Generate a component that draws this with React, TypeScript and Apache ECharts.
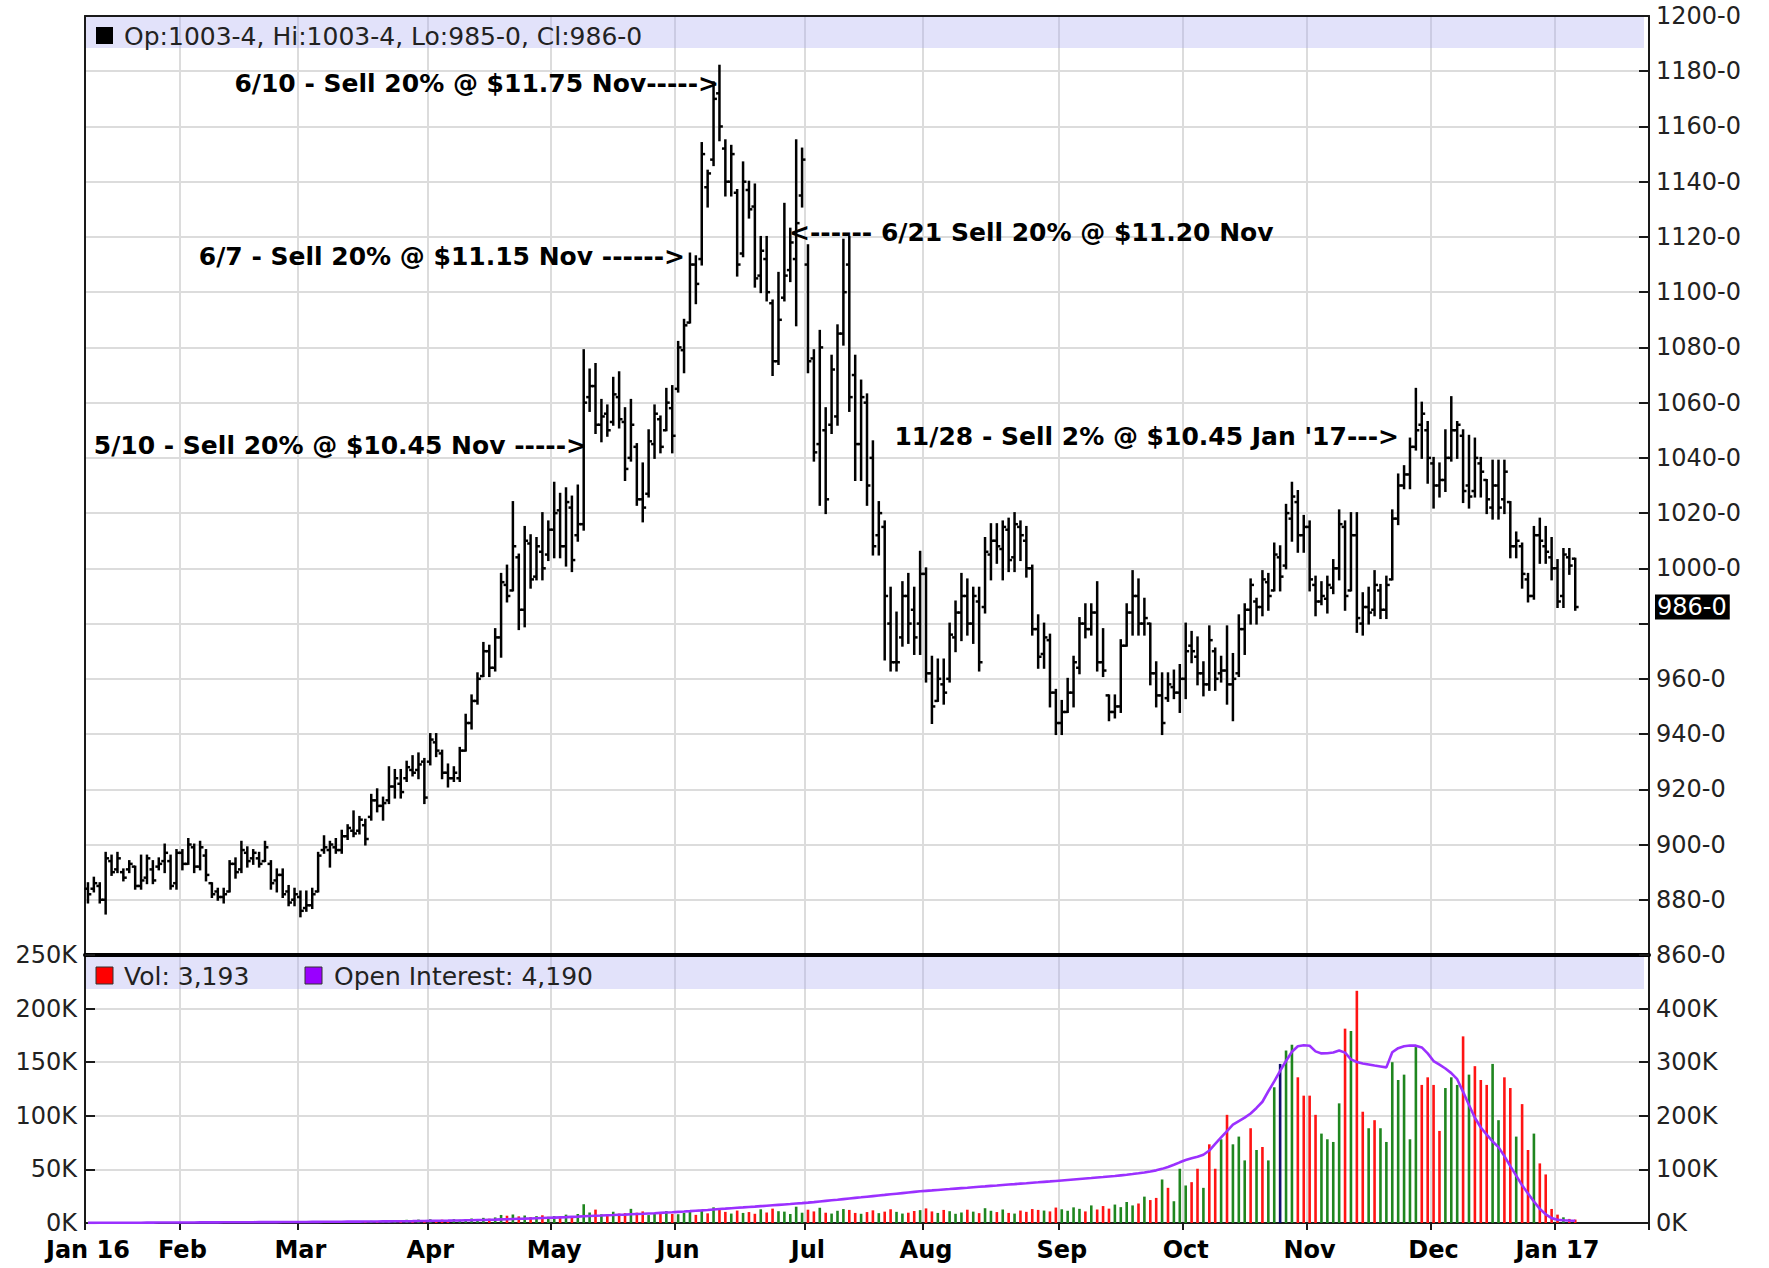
import React, { useEffect, useRef } from 'react';
import * as echarts from 'echarts';

// ---------- DATA ----------
const monthLabels = ['Jan 16', 'Feb', 'Mar', 'Apr', 'May', 'Jun', 'Jul', 'Aug', 'Sep', 'Oct', 'Nov', 'Dec', 'Jan 17'];

// daily bars: [open, high, low, close]
const jan16 = [[884,886,879,882],[884,888,883,886],[885,886,879,880],[880,897,875,895],[894,896,889,890],[891,897,890,895],[890,891,887,888],[891,894,890,893],[892,892,884,885],[885,896,884,887],[888,896,886,895],[891,894,886,887],[892,895,891,893],[894,900,890,897],[894,896,884,885],[886,898,884,897]];
const feb16 = [[897,898,891,893],[893,902,893,900],[899,900,890,892],[892,901,891,899],[896,898,887,889],[886,886,881,882],[883,884,880,881],[881,884,879,882],[883,894,883,893],[893,895,888,890],[891,901,890,898],[897,899,892,894],[895,898,893,897],[895,897,892,893],[894,901,894,899],[893,894,884,886],[887,891,883,889],[889,891,881,882],[883,885,878,879],[880,884,878,882]];
const mar16 = [[881,883,874,876],[877,883,876,878],[878,884,877,882],[883,897,883,896],[898,903,897,899],[898,901,892,900],[899,902,897,898],[898,905,897,903],[903,907,902,906],[905,912,903,904],[905,910,904,909],[907,909,900,902],[910,918,909,916],[916,920,912,914],[914,917,909,915],[916,928,915,921],[921,927,917,924],[922,927,917,919],[924,930,923,928],[927,932,925,926],[927,933,924,929],[930,931,915,917]];
const apr16 = [[930,940,929,938],[937,940,932,934],[933,934,924,926],[926,929,921,924],[924,928,923,926],[924,935,923,934],[934,947,934,944],[944,954,942,952],[952,962,951,960],[961,973,961,970],[970,972,961,964],[964,978,963,975],[975,998,968,995],[994,1001,988,990],[992,1024,992,1008],[1004,1005,978,985],[985,1015,979,1010],[1009,1012,993,996],[997,1011,996,1008],[1006,1020,996,1000],[1005,1017,1003,1014]];
const may16 = [[1014,1031,1004,1020],[1021,1027,1004,1008],[1008,1029,1001,1024],[1022,1026,999,1003],[1012,1030,1010,1016],[1016,1079,1014,1060],[1062,1072,1057,1066],[1066,1074,1049,1052],[1052,1061,1046,1055],[1056,1059,1048,1050],[1053,1069,1052,1063],[1062,1071,1051,1054],[1053,1058,1032,1036],[1040,1061,1039,1052],[1044,1045,1023,1025],[1025,1038,1017,1022],[1027,1050,1026,1046],[1045,1059,1040,1056],[1054,1055,1042,1044],[1050,1065,1050,1060],[1058,1066,1042,1048]];
const jun16 = [[1065,1082,1064,1080],[1079,1090,1071,1088],[1089,1114,1089,1110],[1110,1113,1096,1103],[1112,1154,1110,1150],[1138,1144,1131,1143],[1148,1176,1146,1170],[1172,1182,1155,1160],[1152,1155,1135,1140],[1140,1153,1135,1150],[1136,1137,1106,1110],[1114,1147,1113,1140],[1137,1140,1127,1130],[1131,1139,1102,1105],[1106,1120,1100,1115],[1112,1120,1097,1100],[1096,1097,1070,1075],[1075,1107,1074,1090],[1098,1132,1097,1106],[1108,1123,1104,1118],[1112,1155,1088,1125],[1135,1152,1131,1148]];
const jul16 = [[1110,1117,1071,1075],[1076,1079,1039,1042],[1045,1086,1023,1080],[1050,1058,1020,1025],[1052,1077,1049,1072],[1055,1088,1052,1085],[1085,1119,1081,1100],[1110,1120,1057,1062],[1070,1077,1032,1045],[1045,1068,1032,1062],[1060,1063,1023,1030],[1040,1046,1005,1008],[1012,1024,1005,1020],[1015,1017,967,990],[980,993,963,966],[966,984,963,966],[975,995,972,990],[990,998,973,980],[985,993,969,975],[980,1006,969,998]];
const aug16 = [[998,1000,959,962],[962,968,944,950],[952,967,952,960],[958,967,951,955],[960,980,959,976],[975,988,970,984],[984,998,974,990],[990,996,976,980],[980,993,973,990],[988,993,963,966],[986,1011,984,1006],[1005,1016,996,1010],[1010,1016,1002,1008],[1007,1017,996,1015],[1014,1018,999,1003],[1004,1020,999,1016],[1015,1017,1003,1012],[1010,1015,997,1000],[1000,1001,976,978],[978,983,964,968],[969,980,964,975],[974,976,950,955],[955,956,940,944]];
const sep16 = [[944,952,940,948],[948,960,948,955],[955,968,950,966],[964,982,962,980],[980,987,975,978],[978,987,976,984],[984,995,963,966],[966,978,961,963],[954,954,945,948],[948,954,946,950],[950,974,948,972],[972,987,972,984],[984,999,976,990],[990,996,976,980],[980,989,976,982],[980,980,958,962],[962,966,950,954],[954,962,940,944],[953,962,952,958],[957,963,953,955],[955,965,948,960]];
const oct16 = [[960,980,953,970],[972,977,966,970],[968,975,958,962],[962,966,954,958],[958,979,956,974],[970,971,956,960],[962,968,959,963],[963,979,951,958],[958,969,945,960],[962,983,961,978],[978,987,969,985],[985,996,980,994],[988,989,980,986],[986,999,983,996],[995,998,985,990],[992,1009,992,1005],[1004,1008,992,997],[1001,1023,1000,1020],[1018,1031,1010,1026],[1024,1028,1006,1012],[1012,1019,1006,1015]];
const nov16 = [[1015,1017,992,996],[994,997,983,988],[988,995,987,990],[989,997,984,994],[993,1003,991,1000],[1000,1021,996,1016],[1015,1017,985,990],[992,1020,992,1012],[1012,1020,977,982],[980,991,976,986],[986,993,980,984],[985,999,983,994],[992,994,982,985],[985,997,982,994],[996,1021,996,1018],[1018,1034,1016,1030],[1030,1037,1029,1034],[1034,1047,1029,1044],[1044,1065,1043,1050],[1052,1060,1040,1056],[1050,1053,1031,1040]];
const dec16 = [[1038,1040,1022,1030],[1030,1038,1026,1032],[1032,1050,1028,1040],[1040,1062,1039,1050],[1050,1053,1040,1052],[1048,1050,1024,1028],[1030,1048,1022,1026],[1028,1047,1026,1040],[1038,1040,1026,1035],[1032,1032,1020,1025],[1022,1039,1018,1030],[1030,1039,1018,1022],[1025,1039,1020,1035],[1024,1024,1004,1008],[1008,1013,1004,1010],[1008,1009,993,998],[996,998,988,990],[990,1015,989,1012],[1012,1018,1002,1010],[1008,1015,1002,1006],[1004,1011,996,1000]];
const jan17 = [[1000,1003,986,988],[990,1007,986,1005],[1004,1007,998,1001],[1003.5,1003.5,985,986]];

// daily volume, thousands (left axis)
const janVol = [0.4,0.5,0.3,0.6,0.5,0.4,0.6,0.5,0.7,0.5,0.6,0.4,0.8,0.6,0.7,0.5];
const febVol = [0.6,0.8,0.7,0.9,0.6,0.8,1.0,0.7,0.9,0.8,1.1,0.9,0.7,1.0,1.2,0.9,0.8,1.1,1.0,1.2];
const marVol = [1.0,1.3,1.1,1.5,1.2,1.4,1.6,1.3,1.5,1.8,1.4,1.7,2.0,1.6,1.9,2.2,1.8,2.4,3.0,2.6,3.2,2.8];
const aprVol = [3.5,2.8,3.1,2.5,3.6,3.0,3.4,4.2,3.6,4.8,4.0,5.2,7.5,6.8,8.0,6.2,7.0,5.5,6.4,7.2,5.8];
const mayVol = [6.5,5.9,7.8,6.2,8.4,17.5,9.8,12.5,8.2,7.6,10.5,8.8,9.2,13.2,9.6,10.8,7.4,8.6,9.0,11.2,8.4];
const junVol = [8.2,9.5,11.8,7.6,12.4,9.0,14.6,13.2,10.4,8.8,11.6,9.4,10.2,8.6,12.8,9.8,13.4,11.0,10.6,8.4,15.2,9.6];
const julVol = [12.4,10.8,14.2,9.6,8.8,11.4,13.0,12.2,9.4,8.6,10.2,11.8,9.2,10.6,12.8,10.4,8.8,9.6,11.2,12.0];
const augVol = [13.6,10.8,9.4,12.2,11.0,8.6,9.8,12.4,10.6,9.2,13.8,11.4,10.2,12.6,9.4,8.8,11.6,10.4,13.0,12.2,11.6,10.8,14.4];
const sepVol = [12.8,11.4,14.6,13.2,10.8,16.4,12.6,15.8,13.4,17.2,14.8,19.6,16.4,18.2,24.6,21.4,23.4,40.6,32.8,20.3,50.6];
const octVol = [35.0,38.1,50.6,32.8,73.4,50.6,78.1,100.9,73.4,80.6,58.4,88.4,68.1,70.9,58.4,126.6,148.4,160.9,166.3,135.9,118.8];
const novVol = [118.8,100.9,83.4,78.1,75.6,111.6,181.3,179.1,216.6,103.8,88.4,95.9,88.4,75.6,150.0,133.4,138.4,78.1,164.1,128.8,135.9];
const decVol = [128.8,85.9,125.9,135.9,128.8,174.1,138.4,146.3,133.4,128.8,148.4,95.9,135.9,125.9,80.6,110.9,68.1,83.4,55.6,45.3,13.1];
const jan17Vol = [7.8,5.3,3.8,3.193];

// volume bar colours read from Sep 19 onwards (r = red, g = green, n = navy)
const lateVolColorCodes = 'rgrgggrrgr' + 'rgrgggrgrg' + 'gnggrrrrgg' + 'ggrgrrgrgg' + 'gggggrrrrg' + 'ggrgrrrggr' + 'rgrrgrrrrg' + 'rr';

// open interest, thousands (right axis)
const janOI = [0.3,0.3,0.4,0.4,0.5,0.5,0.5,0.6,0.6,0.6,0.7,0.7,0.8,0.8,0.8,0.9];
const febOI = [0.9,1.0,1.0,1.1,1.1,1.2,1.2,1.3,1.3,1.4,1.4,1.5,1.5,1.6,1.6,1.7,1.7,1.8,1.8,1.9];
const marOI = [1.9,2.0,2.1,2.1,2.2,2.3,2.3,2.4,2.5,2.6,2.6,2.7,2.8,2.9,3.0,3.1,3.2,3.3,3.4,3.5,3.7,3.8];
const aprOI = [4.0,4.1,4.3,4.4,4.6,4.8,5.0,5.2,5.5,5.7,6.0,6.3,6.7,7.0,7.4,7.8,8.1,8.5,8.9,9.3,9.7];
const mayOI = [10.1,10.5,10.9,11.4,11.9,12.6,13.1,13.5,13.9,14.4,14.8,15.3,15.7,16.2,16.7,17.2,17.8,18.3,18.9,19.5,20.1];
const junOI = [20.8,21.4,22.1,22.9,23.6,24.4,25.3,26.1,26.8,27.6,28.4,29.1,29.9,30.6,31.4,32.2,33.0,33.8,34.6,35.4,36.3,37.1];
const julOI = [38.0,39.0,40.1,41.2,42.3,43.4,44.6,45.7,46.8,47.9,49.1,50.2,51.3,52.4,53.6,54.7,55.8,56.9,58.0,59.1];
const augOI = [60.0,60.8,61.7,62.5,63.3,64.2,65.0,65.8,66.7,67.5,68.3,69.2,70.0,70.9,71.7,72.5,73.4,74.2,75.1,75.9,76.8,77.6,78.5];
const sepOI = [79.4,80.3,81.2,82.1,83.0,83.9,84.9,85.8,86.8,87.8,88.9,90.0,91.3,92.7,94.3,96.1,98.2,101.0,104.5,108.6,113.2];
const octOI = [117.5,120.8,123.6,127.4,135.2,147.6,159.8,171.5,183.4,190.2,196.5,204.3,214.6,226.2,245.8,264.1,284.0,302.3,319.6,329.8,331.5];
const novOI = [330.6,320.2,316.4,316.8,318.1,321.7,317.9,305.2,300.4,297.6,295.8,293.9,292.1,290.3,318.5,326.2,329.8,331.2,330.9,327.6,316.4];
const decOI = [302.1,295.4,288.2,279.6,268.3,244.7,220.1,196.4,178.2,164.8,152.1,141.6,124.8,106.2,88.4,70.3,55.2,40.1,26.4,16.2,9.1];
const jan17OI = [6.2,5.1,4.6,4.19];

const priceTicks = { min: 860, max: 1200, step: 20 };
const volTicks = { min: 0, max: 250, step: 50 };
const oiTicks = { min: 0, max: 500, step: 100 };

const annotations = [
  { text: '6/10 - Sell 20% @ $11.75 Nov----->', x: 719, y: 83, align: 'right' },
  { text: '6/7 - Sell 20% @ $11.15 Nov ------>', x: 685, y: 256, align: 'right' },
  { text: '<------ 6/21 Sell 20% @ $11.20 Nov', x: 789, y: 232, align: 'left' },
  { text: '5/10 - Sell 20% @ $10.45 Nov ----->', x: 587, y: 445, align: 'right' },
  { text: "11/28 - Sell 2% @ $10.45 Jan '17--->", x: 1399, y: 436, align: 'right' },
];

// ---------- BUILD ----------
const priceMonths = [jan16, feb16, mar16, apr16, may16, jun16, jul16, aug16, sep16, oct16, nov16, dec16, jan17];
const volMonths = [janVol, febVol, marVol, aprVol, mayVol, junVol, julVol, augVol, sepVol, octVol, novVol, decVol, jan17Vol];
const oiMonths = [janOI, febOI, marOI, aprOI, mayOI, junOI, julOI, augOI, sepOI, octOI, novOI, decOI, jan17OI];

const bars = priceMonths.flat();
const vols = volMonths.flat();
const ois = oiMonths.flat();
const PAD = 12;
const nCats = bars.length + PAD;

const labelAt = new Map<number, string>();
{
  let acc = 0;
  priceMonths.forEach((m, k) => { labelAt.set(acc, monthLabels[k]); acc += m.length; });
}
const categories = Array.from({ length: nCats }, (_, i) => labelAt.get(i) ?? `d${i}`);

const lateStart = bars.length - lateVolColorCodes.length;
const colorOf: Record<string, string> = { r: '#ff1414', g: '#1f861f', n: '#10106e' };
const volColor = (i: number) => {
  if (i >= lateStart) return colorOf[lateVolColorCodes[i - lateStart]];
  if (i === 0) return colorOf.g;
  return bars[i][3] >= bars[i - 1][3] ? colorOf.g : colorOf.r;
};

const fmtGrain = (p: number) => `${Math.floor(p)}-${Math.round((p - Math.floor(p)) * 8)}`;
const last = bars[bars.length - 1];
const lastClose = last[3];
const headerText = `Op:${fmtGrain(last[0])}, Hi:${fmtGrain(last[1])}, Lo:${fmtGrain(last[2])}, Cl:${fmtGrain(last[3])}`;
const volText = `Vol: ${Math.round(vols[vols.length - 1] * 1000).toLocaleString('en-US')}`;
const oiText = `Open Interest: ${Math.round(ois[ois.length - 1] * 1000).toLocaleString('en-US')}`;

const FONT = 'DejaVu Sans';
const GRID_COLOR = '#dcdcdc';
const AXIS_COLOR = '#1a1a1a';
const L = 85, W = 1564, T1 = 16, H1 = 939, T2 = 955, H2 = 268;

const isMonth = (i: number) => labelAt.has(i);
const isInnerMonth = (i: number) => labelAt.has(i) && i > 0;

const axisLabelStyle = { color: '#222', fontFamily: FONT, fontSize: 24 };

const option: any = {
  animation: false,
  backgroundColor: '#ffffff',
  grid: [
    { left: L, width: W, top: T1, height: H1 },
    { left: L, width: W, top: T2, height: H2 },
  ],
  xAxis: [
    {
      type: 'category', gridIndex: 0, data: categories, boundaryGap: true, position: 'bottom',
      axisLine: { show: true, onZero: false, lineStyle: { color: '#000', width: 4 } },
      axisTick: { show: false }, axisLabel: { show: false },
      splitLine: { show: true, interval: (i: number) => isInnerMonth(i), lineStyle: { color: GRID_COLOR, width: 2 } },
    },
    {
      type: 'category', gridIndex: 0, data: categories, boundaryGap: true, position: 'top',
      axisLine: { show: true, onZero: false, lineStyle: { color: AXIS_COLOR, width: 2 } },
      axisTick: { show: false }, axisLabel: { show: false }, splitLine: { show: false },
    },
    {
      type: 'category', gridIndex: 1, data: categories, boundaryGap: true, position: 'bottom',
      axisLine: { show: true, onZero: false, lineStyle: { color: AXIS_COLOR, width: 2 } },
      axisTick: { show: true, interval: (i: number) => isMonth(i), length: 7, lineStyle: { color: AXIS_COLOR, width: 2 } },
      axisLabel: {
        show: true, interval: (i: number) => isMonth(i), formatter: (v: string) => v,
        color: '#000', fontFamily: FONT, fontWeight: 'bold', fontSize: 24, margin: 15,
      },
      splitLine: { show: true, interval: (i: number) => isInnerMonth(i), lineStyle: { color: GRID_COLOR, width: 2 } },
    },
  ],
  yAxis: [
    {
      type: 'value', gridIndex: 0, position: 'right', min: priceTicks.min, max: priceTicks.max, interval: priceTicks.step,
      axisLine: { show: true, lineStyle: { color: AXIS_COLOR, width: 2 } },
      axisTick: { show: true, inside: true, length: 10, lineStyle: { color: AXIS_COLOR, width: 2 } },
      axisLabel: {
        ...axisLabelStyle, margin: 7,
        // the label hidden behind the last-price tag is not drawn
        formatter: (v: number) => (Math.abs(v - lastClose) < 12 ? '' : `${v}-0`),
      },
      splitLine: { show: true, lineStyle: { color: GRID_COLOR, width: 2 } },
    },
    {
      type: 'value', gridIndex: 0, position: 'left', min: priceTicks.min, max: priceTicks.max,
      axisLine: { show: true, lineStyle: { color: AXIS_COLOR, width: 2 } },
      axisTick: { show: false }, axisLabel: { show: false }, splitLine: { show: false },
    },
    {
      type: 'value', gridIndex: 1, position: 'left', min: volTicks.min, max: volTicks.max, interval: volTicks.step,
      axisLine: { show: true, lineStyle: { color: AXIS_COLOR, width: 2 } },
      axisTick: { show: true, inside: true, length: 10, lineStyle: { color: AXIS_COLOR, width: 2 } },
      axisLabel: { ...axisLabelStyle, margin: 8, formatter: (v: number) => `${v}K` },
      splitLine: { show: true, lineStyle: { color: GRID_COLOR, width: 2 } },
    },
    {
      type: 'value', gridIndex: 1, position: 'right', min: oiTicks.min, max: oiTicks.max, interval: oiTicks.step,
      axisLine: { show: true, lineStyle: { color: AXIS_COLOR, width: 2 } },
      axisTick: { show: true, inside: true, length: 10, lineStyle: { color: AXIS_COLOR, width: 2 } },
      axisLabel: { ...axisLabelStyle, margin: 7, formatter: (v: number) => (v >= oiTicks.max ? '' : `${v}K`) },
      splitLine: { show: false },
    },
  ],
  series: [
    {
      type: 'custom', name: 'Price', xAxisIndex: 0, yAxisIndex: 0, z: 5,
      data: bars.map((b, i) => [i, b[0], b[1], b[2], b[3]]),
      encode: { x: 0, y: [1, 2, 3, 4] },
      renderItem: (_p: any, api: any) => {
        const i = api.value(0);
        const o = api.coord([i, api.value(1)]);
        const h = api.coord([i, api.value(2)]);
        const l = api.coord([i, api.value(3)]);
        const c = api.coord([i, api.value(4)]);
        const t = 3.4;
        const st = { stroke: '#000', lineWidth: 2.5 };
        return {
          type: 'group',
          children: [
            { type: 'line', shape: { x1: h[0], y1: h[1] - 1, x2: l[0], y2: l[1] + 1 }, style: st },
            { type: 'line', shape: { x1: o[0] - t, y1: o[1], x2: o[0], y2: o[1] }, style: st },
            { type: 'line', shape: { x1: c[0], y1: c[1], x2: c[0] + t, y2: c[1] }, style: st },
          ],
        };
      },
      markLine: {
        silent: true, symbol: ['none', 'none'],
        lineStyle: { color: 'rgba(0,0,0,0)', width: 0 },
        data: [{ yAxis: lastClose }],
        label: {
          show: true, position: 'end', distance: 6, formatter: fmtGrain(lastClose),
          backgroundColor: '#000', color: '#fff', fontFamily: FONT, fontSize: 24, padding: [1, 3, 0, 2],
        },
      },
    },
    {
      type: 'bar', name: 'Vol', xAxisIndex: 2, yAxisIndex: 2, barWidth: 2.6, z: 2,
      data: vols.map((v, i) => ({ value: v, itemStyle: { color: volColor(i) } })),
    },
    {
      type: 'line', name: 'Open Interest', xAxisIndex: 2, yAxisIndex: 3, z: 4,
      data: ois, symbol: 'none', showSymbol: false,
      lineStyle: { color: '#9b30ff', width: 2.6 },
    },
  ],
  graphic: [
    { type: 'rect', z: 1, shape: { x: L + 1, y: T1 + 1, width: W - 6, height: 31 }, style: { fill: 'rgba(176,176,240,0.36)' } },
    { type: 'rect', z: 1, shape: { x: L + 1, y: T2 + 2, width: W - 6, height: 32 }, style: { fill: 'rgba(176,176,240,0.36)' } },
    { type: 'rect', z: 20, shape: { x: 96, y: 27, width: 17, height: 17 }, style: { fill: '#000' } },
    { type: 'text', z: 20, x: 124, y: 36, style: { text: headerText, fill: '#222', fontFamily: FONT, fontSize: 25, verticalAlign: 'middle' } },
    { type: 'rect', z: 20, shape: { x: 96, y: 967, width: 17, height: 17 }, style: { fill: '#ff0000', stroke: '#333', lineWidth: 1 } },
    { type: 'text', z: 20, x: 124, y: 976, style: { text: volText, fill: '#222', fontFamily: FONT, fontSize: 25, verticalAlign: 'middle' } },
    { type: 'rect', z: 20, shape: { x: 305, y: 967, width: 17, height: 17 }, style: { fill: '#9900ff', stroke: '#333', lineWidth: 1 } },
    { type: 'text', z: 20, x: 334, y: 976, style: { text: oiText, fill: '#222', fontFamily: FONT, fontSize: 25, verticalAlign: 'middle' } },
    ...annotations.map((a) => ({
      type: 'text', z: 30, x: a.x, y: a.y,
      style: { text: a.text, fill: '#000', fontFamily: FONT, fontWeight: 'bold', fontSize: 25, align: a.align, verticalAlign: 'middle' },
    })),
  ],
};

export default function App() {
  const ref = useRef<HTMLDivElement>(null);
  useEffect(() => {
    if (!ref.current) return;
    const chart = echarts.init(ref.current, undefined, { renderer: 'svg' });
    chart.setOption(option);
    return () => chart.dispose();
  }, []);
  return (
    <div
      ref={ref}
      style={{ position: 'absolute', left: 0, top: 0, width: 1769, height: 1268, background: '#fff' }}
    />
  );
}
